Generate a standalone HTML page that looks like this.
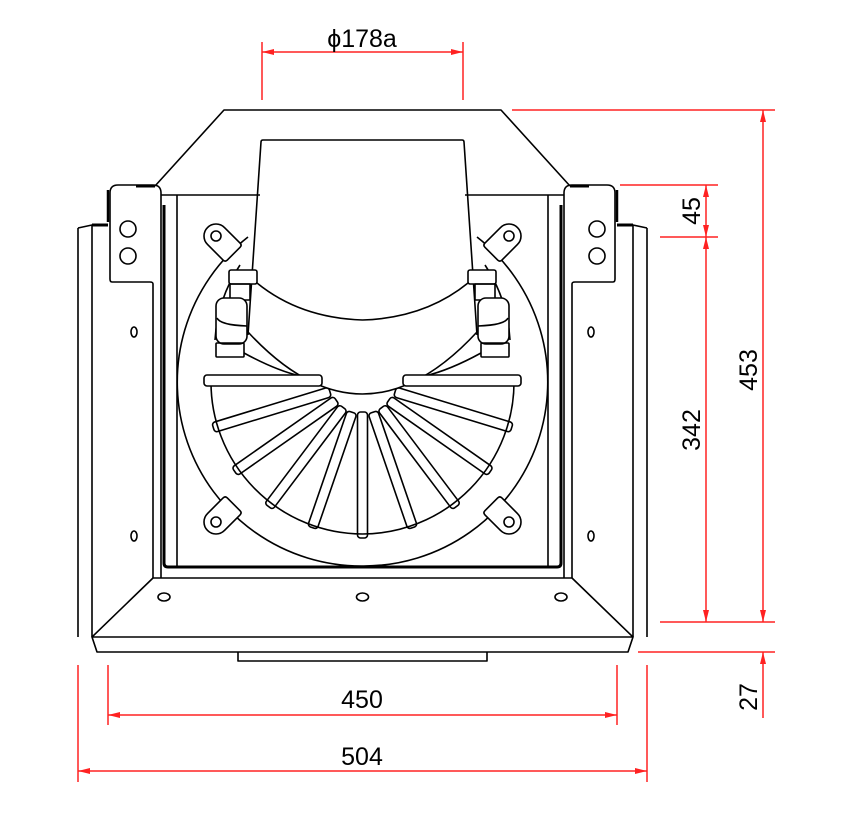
<!DOCTYPE html>
<html><head><meta charset="utf-8"><style>html,body{margin:0;padding:0;background:#fff}svg{display:block}</style></head>
<body>
<svg width="849" height="825" viewBox="0 0 849 825" xmlns="http://www.w3.org/2000/svg">
<defs>
<g id="half" fill="none" stroke="#000" stroke-width="1.6" stroke-linejoin="round">
  <path d="M155,186 L224,110 L362.5,110"/>
  <path d="M136,186 L155,186" stroke-width="3"/>
  <path d="M78,228 L92,225 L108,225" />
  <path d="M92,225 L108,225" stroke-width="3"/>
  <path d="M78,228 L78,637 M92,225 L92,637"/>
  <path d="M153,578 L153,284 Q153,282 150,282 L112,282 Q110,282 110,279 L110,193 Q110,185 118,185 L153,185 Q161,185 161,193 L161,578"/>
  <path d="M108,190 L108,222" stroke-width="2.5"/>
  <circle cx="128" cy="229" r="8"/>
  <circle cx="128" cy="256" r="8"/>
  <ellipse cx="134" cy="332" rx="3" ry="5"/>
  <ellipse cx="134" cy="536" rx="3" ry="5"/>
  <path d="M161,195 L260,195"/>
  <path d="M164,205 L164,563 Q164,567 168,567 L362.5,567" stroke-width="3"/>
  <path d="M177,195 L177,566"/>
  <path d="M153,578 L362.5,578 M153,578 L92,637 L362.5,637 M92,637 L97,652 L362.5,652 M238,652 L238,661 L362.5,661"/>
  <ellipse cx="164" cy="597" rx="6" ry="4"/>
  <path d="M248,237 A184,184 0 0 0 362.5,566"/>
  <path d="M240,265 A152,152 0 0 0 215,340 M211,380 A152,152 0 0 0 362.5,534" />
  <g transform="translate(216,236) rotate(45)">
    <path d="M0,-12 L22,-12 Q25,-12 25,-9 L25,9 Q25,12 22,12 L0,12 A12,12 0 0 1 0,-12 Z" fill="#fff"/>
    <circle cx="0" cy="0" r="5"/>
  </g>
  <g transform="translate(216,522) rotate(-45)">
    <path d="M0,-12 L22,-12 Q25,-12 25,-9 L25,9 Q25,12 22,12 L0,12 A12,12 0 0 1 0,-12 Z" fill="#fff"/>
    <circle cx="0" cy="0" r="5"/>
  </g>
  <path d="M362.5,140 L263,140 Q261,140 261,142 L248,335"/>
  <path d="M257,283 Q300,318 362.5,320"/>
  <path d="M244,353 Q275,370 300,376"/>
  <rect x="229" y="270" width="28" height="14" rx="2" fill="#fff"/>
  <rect x="230" y="284" width="20" height="16"/>
  <rect x="216" y="298" width="31" height="46" rx="8" fill="#fff"/>
  <path d="M217,318 Q220,325 247,326"/>
  <rect x="216" y="343" width="28" height="14" rx="1"/>
  <rect x="204" y="375" width="118" height="11" rx="3" fill="#fff"/>
</g>
</defs>
<g fill="#fff" stroke="#000" stroke-width="1.6">
  <g transform="translate(362.5,382)">
    <rect x="-5" y="30" width="10" height="126" rx="3"/>
    <rect x="-5" y="32" width="10" height="122" rx="3" transform="rotate(19)"/>
    <rect x="-5" y="32" width="10" height="122" rx="3" transform="rotate(-19)"/>
    <rect x="-5" y="32" width="10" height="124" rx="3" transform="rotate(37)"/>
    <rect x="-5" y="32" width="10" height="124" rx="3" transform="rotate(-37)"/>
    <rect x="-5" y="32" width="10" height="124" rx="3" transform="rotate(55)"/>
    <rect x="-5" y="32" width="10" height="124" rx="3" transform="rotate(-55)"/>
    <rect x="-5" y="34" width="10" height="122" rx="3" transform="rotate(73)"/>
    <rect x="-5" y="34" width="10" height="122" rx="3" transform="rotate(-73)"/>
  </g>
</g>
<path d="M248,332 Q362.5,456 477,332 L480,300 L245,300 Z" fill="#fff" stroke="none"/>
<path d="M248,332 Q362.5,456 477,332" fill="none" stroke="#000" stroke-width="1.6"/>
<use href="#half"/>
<use href="#half" transform="translate(725,0) scale(-1,1)"/>
<ellipse cx="362.5" cy="597" rx="6" ry="4" fill="none" stroke="#000" stroke-width="1.6"/>
<g stroke="#f22" stroke-width="1.5" fill="none">
  <path d="M262,42 V100 M463,42 V100 M262,52 H463"/>
  <path d="M512,110 H775 M620,185 H718 M660,237 H718 M660,622 H775 M638,652 H775"/>
  <path d="M763,110 V622 M706,185 V237 M706,237 V622 M763,652 V718"/>
  <path d="M78,665 V782 M647,665 V782 M108,665 V725 M617,665 V725 M108,715 H617 M78,771 H647"/>
</g>
<g fill="#f22">
  <path d="M262,52 l12,-3 v6z M463,52 l-12,-3 v6z"/>
  <path d="M763,110 l-3,12 h6z M763,622 l-3,-12 h6z"/>
  <path d="M706,185 l-3,12 h6z M706,237 l-3,-12 h6z M706,237 l-3,12 h6z M706,622 l-3,-12 h6z"/>
  <path d="M763,652 l-3,12 h6z"/>
  <path d="M108,715 l12,-3 v6z M617,715 l-12,-3 v6z M78,771 l12,-3 v6z M647,771 l-12,-3 v6z"/>
</g>
<g font-family="Liberation Sans, sans-serif" font-size="25" fill="#000" text-anchor="middle">
  <text x="362" y="47">ϕ178a</text>
  <text x="362" y="708">450</text>
  <text x="362" y="765">504</text>
  <text transform="translate(757,370) rotate(-90)">453</text>
  <text transform="translate(700,430) rotate(-90)">342</text>
  <text transform="translate(700,211) rotate(-90)">45</text>
  <text transform="translate(757,697) rotate(-90)">27</text>
</g>
</svg>
</body></html>
